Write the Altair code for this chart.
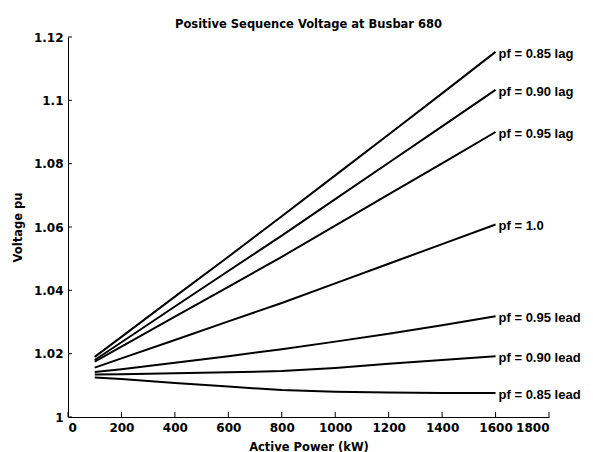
import altair as alt
import pandas as pd

power_kw = [100, 200, 400, 600, 800, 1000, 1200, 1400, 1600]
series_names = ["pf = 0.85 lag", "pf = 0.90 lag", "pf = 0.95 lag", "pf = 1.0",
                "pf = 0.95 lead", "pf = 0.90 lead", "pf = 0.85 lead"]
v_085_lag = [1.0190, 1.0253, 1.0380, 1.0506, 1.0634, 1.0763, 1.0892, 1.1022, 1.1153]
v_090_lag = [1.0180, 1.0236, 1.0349, 1.0461, 1.0573, 1.0688, 1.0803, 1.0918, 1.1033]
v_095_lag = [1.0175, 1.0222, 1.0317, 1.0411, 1.0506, 1.0604, 1.0703, 1.0801, 1.0900]
v_100 = [1.0156, 1.0185, 1.0243, 1.0302, 1.0360, 1.0422, 1.0484, 1.0546, 1.0608]
v_095_lead = [1.0142, 1.0151, 1.0171, 1.0192, 1.0214, 1.0238, 1.0263, 1.0290, 1.0318]
v_090_lead = [1.0134, 1.0135, 1.0138, 1.0141, 1.0145, 1.0155, 1.0168, 1.0180, 1.0192]
v_085_lead = [1.0125, 1.0120, 1.0107, 1.0096, 1.0085, 1.0080, 1.0077, 1.0076, 1.0076]

x_ticks = [0, 200, 400, 600, 800, 1000, 1200, 1400, 1600, 1800]
y_ticks = [1.0, 1.02, 1.04, 1.06, 1.08, 1.10, 1.12]

all_series = [v_085_lag, v_090_lag, v_095_lag, v_100, v_095_lead, v_090_lead, v_085_lead]
rows = []
for name, vals in zip(series_names, all_series):
    for p, v in zip(power_kw, vals):
        rows.append({"series": name, "power": p, "voltage": v})
df = pd.DataFrame(rows)
labels_df = pd.DataFrame({"series": series_names,
                          "power": [power_kw[-1]] * len(series_names),
                          "voltage": [s[-1] for s in all_series]})

FONT = "DejaVu Sans"
LABEL_FONT = "Liberation Sans"
xscale = alt.Scale(domain=[0, 1800], nice=False, zero=False)
yscale = alt.Scale(domain=[1.0, 1.12], nice=False, zero=False)

lines = alt.Chart(df).mark_line(color="black", strokeWidth=2).encode(
    x=alt.X("power:Q", scale=xscale,
            axis=alt.Axis(title="Active Power (kW)", values=x_ticks, ticks=False,
                          format="d",
                          labelPadding=5, titlePadding=8, grid=False,
                          domainColor="black", labelColor="black", titleColor="black")),
    y=alt.Y("voltage:Q", scale=yscale,
            axis=alt.Axis(title="Voltage pu", values=y_ticks, ticks=False,
                          labelExpr="format(datum.value, '.2~f')",
                          labelPadding=5, titlePadding=10, grid=False,
                          domainColor="black", labelColor="black", titleColor="black")),
    detail="series:N",
)

labels = alt.Chart(labels_df).mark_text(
    align="left", baseline="middle", dx=3, dy=2, font=LABEL_FONT, fontWeight="bold",
    fontSize=13, color="black"
).encode(
    x=alt.X("power:Q", scale=xscale),
    y=alt.Y("voltage:Q", scale=yscale),
    text="series:N",
)

xt = alt.Chart(pd.DataFrame({"power": x_ticks})).mark_rule(color="black").encode(
    x=alt.X("power:Q", scale=xscale),
    y=alt.value(380), y2=alt.value(375),
)
yt = alt.Chart(pd.DataFrame({"voltage": y_ticks})).mark_rule(color="black").encode(
    y=alt.Y("voltage:Q", scale=yscale),
    x=alt.value(0), x2=alt.value(4),
)

chart = alt.layer(lines, labels, xt, yt).properties(
    width=481, height=380,
    title=alt.TitleParams("Positive Sequence Voltage at Busbar 680", font=FONT,
                          fontSize=11.5, fontWeight="bold", anchor="middle", offset=1,
                          color="black"),
    autosize="none",
    padding={"left": 60, "top": 29, "right": 36, "bottom": 35},
).configure_view(stroke=None).configure_axis(
    labelFont=FONT, titleFont=FONT, labelFontSize=12, titleFontSize=11.5,
    labelFontWeight="bold", titleFontWeight="bold", domainWidth=1,
)

chart.save("out.html", embed_options={"renderer": "svg", "actions": False})
